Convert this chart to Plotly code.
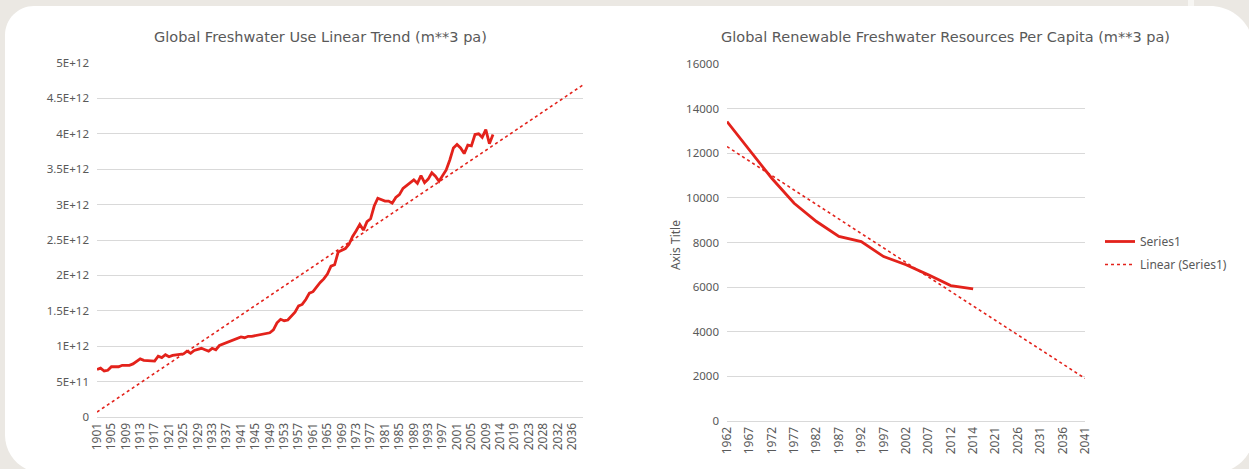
import plotly.graph_objects as go

# Left chart: global freshwater use (m**3 pa), 1901-2011, plus forecast categories
use_years = list(range(1901, 2012))
future_years = [2012, 2014, 2015, 2016, 2017, 2019, 2020, 2021, 2022, 2023, 2024, 2026,
                2027, 2028, 2029, 2030, 2031, 2032, 2033, 2034, 2035, 2036, 2037, 2038, 2039]
use_e12 = [
    0.67, 0.69, 0.65, 0.66, 0.71, 0.71, 0.71, 0.73, 0.73, 0.73,
    0.75, 0.78, 0.82, 0.80, 0.80, 0.79, 0.79, 0.86, 0.84, 0.88,
    0.85, 0.87, 0.88, 0.88, 0.89, 0.93, 0.90, 0.94, 0.96, 0.97,
    0.95, 0.93, 0.97, 0.95, 1.01, 1.03, 1.04, 1.06, 1.09, 1.11,
    1.13, 1.12, 1.14, 1.14, 1.15, 1.17, 1.18, 1.18, 1.19, 1.23,
    1.33, 1.38, 1.36, 1.37, 1.43, 1.48, 1.57, 1.59, 1.66, 1.75,
    1.77, 1.84, 1.90, 1.95, 2.02, 2.13, 2.15, 2.33, 2.36, 2.38,
    2.44, 2.55, 2.63, 2.72, 2.64, 2.76, 2.80, 2.98, 3.09, 3.07,
    3.05, 3.05, 3.02, 3.10, 3.14, 3.23, 3.27, 3.32, 3.35, 3.30,
    3.41, 3.31, 3.36, 3.45, 3.40, 3.33, 3.42, 3.49, 3.63, 3.80,
    3.85, 3.80, 3.72, 3.84, 3.83, 3.99, 4.00, 3.95, 4.06, 3.86,
    3.99,
]
use_trend_years = [1901, 2039]
use_trend_e12 = [0.07, 4.69]
use_ticks = [0, 0.5e12, 1e12, 1.5e12, 2e12, 2.5e12, 3e12, 3.5e12, 4e12, 4.5e12, 5e12]
use_tick_labels = ["0", "5E+11", "1E+12", "1.5E+12", "2E+12", "2.5E+12",
                   "3E+12", "3.5E+12", "4E+12", "4.5E+12", "5E+12"]

# Right chart: renewable freshwater per capita (m**3 pa)
pc_years = [1962, 1967, 1972, 1977, 1982, 1987, 1992, 1997, 2002, 2007, 2012, 2014]
pc_future = [2021, 2026, 2031, 2036, 2041]
pc_values = [13420, 12150, 10880, 9760, 8940, 8270, 8040, 7370, 7000, 6550, 6070, 5920]
pc_trend_years = [1962, 2041]
pc_trend_values = [12300, 1910]

RED = "#e3221b"
GRID = "#d9d9d9"
TXT = "#595959"
FONT = "Noto Sans"
TITLE_FONT = "DejaVu Sans"
W, H = 1249, 469

use_cats = [str(y) for y in use_years + future_years]
pc_cats = [str(y) for y in pc_years + pc_future]

fig = go.Figure()

fig.add_trace(go.Scatter(
    x=[str(y) for y in use_years], y=[v * 1e12 for v in use_e12],
    mode="lines", line=dict(color=RED, width=2.8),
    xaxis="x", yaxis="y", showlegend=False,
))
fig.add_trace(go.Scatter(
    x=[str(y) for y in use_trend_years], y=[v * 1e12 for v in use_trend_e12],
    mode="lines", line=dict(color=RED, width=1.6, dash="dot"),
    xaxis="x", yaxis="y", showlegend=False,
))
fig.add_trace(go.Scatter(
    x=[str(y) for y in pc_years], y=pc_values,
    mode="lines", line=dict(color=RED, width=2.8), name="Series1", legendgroup="a",
    xaxis="x2", yaxis="y2",
))
fig.add_trace(go.Scatter(
    x=[str(y) for y in pc_trend_years], y=pc_trend_values,
    mode="lines", line=dict(color=RED, width=1.6, dash="dot"), name="Linear (Series1)",
    legendgroup="b", xaxis="x2", yaxis="y2",
))


def px_x(x):
    return x / W


def px_y(y):
    return 1 - y / H


def pt(x, y):
    return f"{px_x(x)},{px_y(y)}"


# white card with rounded corners on the beige page (cubic arcs, k ~ circle)
L, T, R, B = 5, 6, 1254, 473
r_tl, r_tr, r_br, r_bl = 29, 44, 40, 38
k = 0.45
card = (
    f"M {pt(L, T + r_tl)} C {pt(L, T + r_tl * k)} {pt(L + r_tl * k, T)} {pt(L + r_tl, T)} "
    f"L {pt(R - r_tr, T)} C {pt(R - r_tr * k, T)} {pt(R, T + r_tr * k)} {pt(R, T + r_tr)} "
    f"L {pt(R, B - r_br)} C {pt(R, B - r_br * k)} {pt(R - r_br * k, B)} {pt(R - r_br, B)} "
    f"L {pt(L + r_bl, B)} C {pt(L + r_bl * k, B)} {pt(L, B - r_bl * k)} {pt(L, B - r_bl)} Z"
)

tick_font = dict(family=FONT, size=12, color=TXT)
ytick_font = dict(family=FONT, size=11.5, color=TXT)

fig.update_layout(
    width=W, height=H,
    margin=dict(l=0, r=0, t=0, b=0, autoexpand=False),
    paper_bgcolor="#ebe8e3",
    plot_bgcolor="rgba(0,0,0,0)",
    font=dict(family=FONT, color=TXT),
    shapes=[
        dict(type="path", path=card, xref="paper", yref="paper",
             fillcolor="white", line=dict(width=0), layer="below"),
        dict(type="rect", xref="paper", yref="paper", x0=px_x(1188), x1=px_x(1194),
             y0=px_y(6), y1=1, fillcolor="#f7f6f3", line=dict(width=0), layer="below"),
    ],
    xaxis=dict(
        domain=[px_x(97), px_x(583)], anchor="y", type="category", automargin=False,
        categoryorder="array", categoryarray=use_cats,
        range=[0, len(use_cats) - 1],
        tickmode="array", tickvals=use_cats[::4], ticktext=use_cats[::4],
        tickangle=-90, showgrid=False, zeroline=False,
        showline=True, linecolor=GRID, linewidth=1,
        ticks="", tickfont=tick_font,
    ),
    yaxis=dict(
        domain=[px_y(417), px_y(63)], anchor="x", automargin=False,
        range=[0, 5e12], tickmode="array", tickvals=use_ticks, ticktext=use_tick_labels,
        gridcolor=GRID, gridwidth=1, showline=False, zeroline=False, ticks="",
        ticklabelstandoff=7, tickfont=ytick_font,
    ),
    xaxis2=dict(
        domain=[px_x(727), px_x(1085)], anchor="y2", type="category", automargin=False,
        categoryorder="array", categoryarray=pc_cats,
        range=[0, len(pc_cats) - 1],
        tickmode="array", tickvals=pc_cats, ticktext=pc_cats,
        tickangle=-90, showgrid=False, zeroline=False,
        showline=True, linecolor=GRID, linewidth=1,
        ticks="", tickfont=tick_font,
    ),
    yaxis2=dict(
        domain=[px_y(421), px_y(64)], anchor="x2", automargin=False,
        range=[0, 16000], dtick=2000, tickformat="d",
        gridcolor=GRID, gridwidth=1, showline=False, zeroline=False, ticks="",
        ticklabelstandoff=7, tickfont=ytick_font,
    ),
    legend=dict(
        x=px_x(1100), y=px_y(253), xanchor="left", yanchor="middle",
        bgcolor="rgba(0,0,0,0)", font=dict(family=FONT, size=12, color=TXT),
        tracegroupgap=4, itemwidth=30,
    ),
    annotations=[
        dict(text="Global Freshwater Use Linear Trend (m**3 pa)", x=px_x(320), y=px_y(37),
             xref="paper", yref="paper", showarrow=False, xanchor="center", yanchor="middle",
             font=dict(family=TITLE_FONT, size=14.5, color=TXT)),
        dict(text="Global Renewable Freshwater Resources Per Capita (m**3 pa)", x=px_x(945),
             y=px_y(37), xref="paper", yref="paper", showarrow=False, xanchor="center",
             yanchor="middle", font=dict(family=TITLE_FONT, size=14.5, color=TXT)),
        dict(text="Axis Title", x=px_x(676), y=px_y(245), xref="paper", yref="paper",
             showarrow=False, textangle=-90, xanchor="center", yanchor="middle",
             font=dict(family=FONT, size=12, color=TXT)),
    ],
)

# the page body has a default margin; remove it so the figure fills the window
fig.write_html("out.html", config={"displayModeBar": False},
               post_script="document.body.style.margin = '0';")
